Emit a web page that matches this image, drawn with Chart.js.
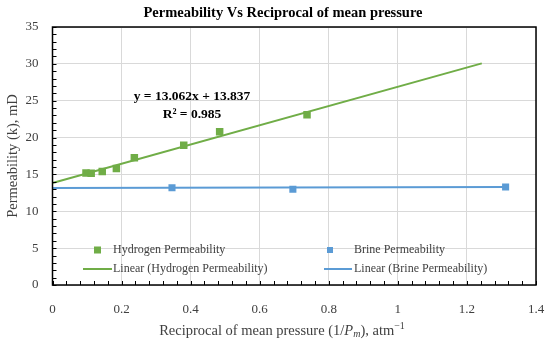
<!DOCTYPE html>
<html><head><meta charset="utf-8">
<script src="https://cdn.jsdelivr.net/npm/chart.js@4/dist/chart.umd.min.js"></script>
<style>html,body{margin:0;padding:0;background:#fff}#wrap{width:550px;height:347px}</style>
</head><body><div id="wrap"><canvas id="c" width="550" height="347"></canvas></div>
<script>
// ---- data ----
const hydrogenX = [0.097, 0.112, 0.144, 0.185, 0.237, 0.380, 0.484, 0.737];
const hydrogenY = [15.2, 15.15, 15.4, 15.8, 17.25, 18.95, 20.8, 23.1];
const brineX = [0.346, 0.696, 1.312];
const brineY = [13.2, 13.0, 13.3];
const hydrogenTrendX = [0, 1.243];
const hydrogenTrendY = [13.837, 30.07];
const brineTrendX = [0, 1.312];
const brineTrendY = [13.17, 13.3];
const xTicks = [0, 0.2, 0.4, 0.6, 0.8, 1.0, 1.2, 1.4];
const xTickLabels = ['0', '0.2', '0.4', '0.6', '0.8', '1', '1.2', '1.4'];
const yTicks = [0, 5, 10, 15, 20, 25, 30, 35];
const yTickLabels = ['0', '5', '10', '15', '20', '25', '30', '35'];
const seriesNames = ['Hydrogen Permeability', 'Brine Permeability', 'Linear (Hydrogen Permeability)', 'Linear (Brine Permeability)'];
const titleText = 'Permeability Vs Reciprocal of mean pressure';
const yTitle = 'Permeability (k), mD';
const eqText = ['y = 13.062x + 13.837', 'R² = 0.985'];

const GREEN = '#70ad47', BLUE = '#5b9bd5';
const FONT = '"Liberation Serif", "Times New Roman", serif';
const zip = (xs, ys) => xs.map((x, i) => ({x, y: ys[i]}));

const overlay = {
  id: 'overlay',
  afterDraw(chart) {
    const ctx = chart.ctx, a = chart.chartArea;
    const xs = chart.scales.x, ys = chart.scales.y;
    ctx.save();
    // title
    ctx.fillStyle = '#000';
    ctx.font = 'bold 14.5px ' + FONT;
    ctx.textAlign = 'center'; ctx.textBaseline = 'middle';
    ctx.fillText(titleText, 283, 13);
    // frame
    ctx.strokeStyle = '#000'; ctx.lineWidth = 1.5;
    ctx.strokeRect(a.left, a.top, a.right - a.left, a.bottom - a.top);
    // inward minor/major tick marks
    ctx.lineWidth = 1;
    ctx.beginPath();
    for (let i = 0; i <= 35; i++) {
      const py = Math.round(ys.getPixelForValue(i)) + 0.5;
      ctx.moveTo(a.left, py); ctx.lineTo(a.left + 4, py);
    }
    for (let i = 0; i <= 35; i++) {
      const px = Math.round(xs.getPixelForValue(i * 0.04)) + 0.5;
      ctx.moveTo(px, a.bottom); ctx.lineTo(px, a.bottom - 4);
    }
    ctx.stroke();
    // equation annotation
    ctx.fillStyle = '#000';
    ctx.font = 'bold 13.5px ' + FONT;
    ctx.fillText(eqText[0], 192, 97);
    ctx.fillText(eqText[1], 192, 115);
    // legend
    ctx.font = '12px ' + FONT;
    ctx.textAlign = 'left';
    const rows = [250, 269];
    ctx.fillStyle = GREEN; ctx.fillRect(97.5 - 3.5, rows[0] - 3.5, 7, 7);
    ctx.fillStyle = BLUE; ctx.fillRect(330 - 3, rows[0] - 3, 6, 6);
    ctx.lineWidth = 2;
    ctx.strokeStyle = GREEN; ctx.beginPath(); ctx.moveTo(83, rows[1]); ctx.lineTo(112, rows[1]); ctx.stroke();
    ctx.strokeStyle = BLUE; ctx.beginPath(); ctx.moveTo(324, rows[1]); ctx.lineTo(352, rows[1]); ctx.stroke();
    ctx.fillStyle = '#404040';
    ctx.fillText(seriesNames[0], 113, rows[0]);
    ctx.fillText(seriesNames[1], 354, rows[0]);
    ctx.fillText(seriesNames[2], 113, rows[1]);
    ctx.fillText(seriesNames[3], 354, rows[1]);
    // y axis title
    ctx.save();
    ctx.translate(13, (a.top + a.bottom) / 2);
    ctx.rotate(-Math.PI / 2);
    ctx.textAlign = 'center';
    ctx.font = '14.5px ' + FONT;
    ctx.fillText(yTitle, 0, 0);
    ctx.restore();
    // x axis title with italic P_m and superscript -1
    const segs = [
      {t: 'Reciprocal of mean pressure (1/', f: '14.5px ' + FONT, dy: 0},
      {t: 'P', f: 'italic 14.5px ' + FONT, dy: 0},
      {t: 'm', f: 'italic 10px ' + FONT, dy: 3},
      {t: '), atm', f: '14.5px ' + FONT, dy: 0},
      {t: '−1', f: '10px ' + FONT, dy: -5}
    ];
    let total = 0;
    segs.forEach(s => { ctx.font = s.f; s.w = ctx.measureText(s.t).width; total += s.w; });
    let x = 282 - total / 2;
    ctx.textAlign = 'left';
    segs.forEach(s => { ctx.font = s.f; ctx.fillText(s.t, x, 331 + s.dy); x += s.w; });
    ctx.restore();
  }
};

new Chart(document.getElementById('c'), {
  type: 'scatter',
  data: {
    datasets: [
      {label: seriesNames[2], data: zip(hydrogenTrendX, hydrogenTrendY), showLine: true, borderColor: GREEN, borderWidth: 2, pointRadius: 0, order: 0},
      {label: seriesNames[3], data: zip(brineTrendX, brineTrendY), showLine: true, borderColor: BLUE, borderWidth: 2, pointRadius: 0, order: 0},
      {label: seriesNames[0], data: zip(hydrogenX, hydrogenY), pointStyle: 'rect', pointRadius: 5.3, backgroundColor: GREEN, borderColor: GREEN, borderWidth: 0, order: 1},
      {label: seriesNames[1], data: zip(brineX, brineY), pointStyle: 'rect', pointRadius: 5, backgroundColor: BLUE, borderColor: BLUE, borderWidth: 0, order: 1}
    ]
  },
  options: {
    responsive: false,
    animation: false,
    layout: {padding: {left: 0, right: 14, top: 27, bottom: 0}},
    plugins: {
      legend: {display: false},
      tooltip: {enabled: false},
      title: {display: false}
    },
    scales: {
      x: {
        type: 'linear', min: 0, max: 1.4,
        afterBuildTicks: s => { s.ticks = xTicks.map(v => ({value: v})); },
        afterFit: s => { s.height = 62; s.paddingLeft = 0; s.paddingRight = 0; },
        ticks: {callback: (v, i) => xTickLabels[i], color: '#404040', font: {family: FONT, size: 13}, padding: 17, maxRotation: 0, autoSkip: false},
        grid: {color: '#d9d9d9', lineWidth: 1, drawTicks: false},
        border: {display: false}
      },
      y: {
        type: 'linear', min: 0, max: 35,
        afterBuildTicks: s => { s.ticks = yTicks.map(v => ({value: v})); },
        afterFit: s => { s.width = 52.5; s.paddingTop = 0; s.paddingBottom = 0; },
        ticks: {callback: (v, i) => yTickLabels[i], color: '#404040', font: {family: FONT, size: 13}, padding: 14},
        grid: {color: '#d9d9d9', lineWidth: 1, drawTicks: false},
        border: {display: false}
      }
    }
  },
  plugins: [overlay]
});
</script></body></html>
